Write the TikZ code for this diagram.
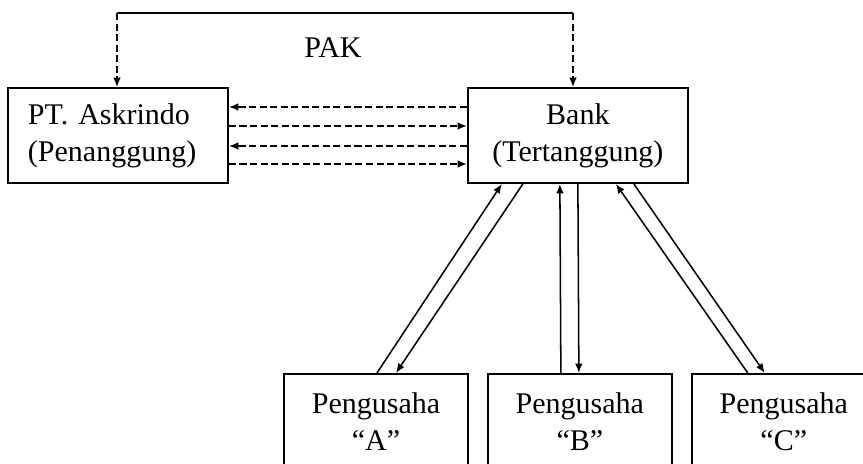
\documentclass[tikz,border=0pt]{standalone}
\usepackage{fontspec}
\setmainfont{Liberation Serif}
\usepackage{tikz}
\usetikzlibrary{arrows.meta}
\usetikzlibrary{positioning}
\tikzset{
	>={Latex[length=8pt,width=6.5pt]},
    party/.style={draw=black, line width=1.6pt, minimum height=2.85cm,
        inner xsep=0.6cm, inner ysep=0pt, text width=5.4cm},
    debtor/.style={party, text width=4.32cm, align=center},
    claim/.style={draw=black, line width=1.3pt, dash pattern=on 6pt off 3pt, ->},
    flow/.style={draw=black, line width=1.3pt, ->},
    pakline/.style={draw=black, line width=1.3pt},
}

\begin{document}
\frenchspacing
\begin{tikzpicture}[font=\fontsize{25.6}{31.6}\selectfont]
	\useasboundingbox (0,0) rectangle (25.89,13.92);
	\node[party, align=left] (ask) at (3.54,9.855) {PT.\ Askrindo\\(Penanggung)};
	\node[party, align=center, right=7.14cm of ask] (bank) {Bank\\(Tertanggung)};
	\node[debtor, below=5.67cm of bank, xshift=0.06cm] (pB) {Pengusaha\\“B”};
	\node[debtor, left=0.54cm of pB] (pA) {Pengusaha\\“A”};
	\node[debtor, right=0.54cm of pB] (pC) {Pengusaha\\“C”};
	% PAK
	\coordinate (pakL) at (3.51,13.53);
	\coordinate (pakR) at (17.19,13.53);
	\draw[pakline] (pakL) -- (pakR);
	\draw[claim] (pakL) -- (ask.north -| pakL);
	\draw[claim] (pakR) -- (bank.north -| pakR);
	\node[anchor=base] (pak) at (9.99,12.18) {PAK};
	% Askrindo <-> Bank
	\draw[claim] ([yshift=0.855cm]bank.west) -- ([yshift=0.855cm]ask.east);
	\draw[claim] ([yshift=0.285cm]ask.east) -- ([yshift=0.285cm]bank.west);
	\draw[claim] ([yshift=-0.315cm]bank.west) -- ([yshift=-0.315cm]ask.east);
	\draw[claim] ([yshift=-0.855cm]ask.east) -- ([yshift=-0.855cm]bank.west);
	% Bank <-> Pengusaha
	\draw[flow] ([xshift=0.03cm]pA.north) -- ([xshift=-2.28cm]bank.south);
	\draw[flow] ([xshift=-1.65cm]bank.south) -- ([xshift=0.6cm]pA.north);
	\draw[flow] ([xshift=-0.57cm]pB.north) -- ([xshift=-0.54cm]bank.south);
	\draw[flow] (bank.south) -- ([xshift=-0.03cm]pB.north);
	\draw[flow] ([xshift=-1.08cm]pC.north) -- ([xshift=1.14cm]bank.south);
	\draw[flow] ([xshift=1.68cm]bank.south) -- ([xshift=-0.57cm]pC.north);
\end{tikzpicture}
\end{document}
